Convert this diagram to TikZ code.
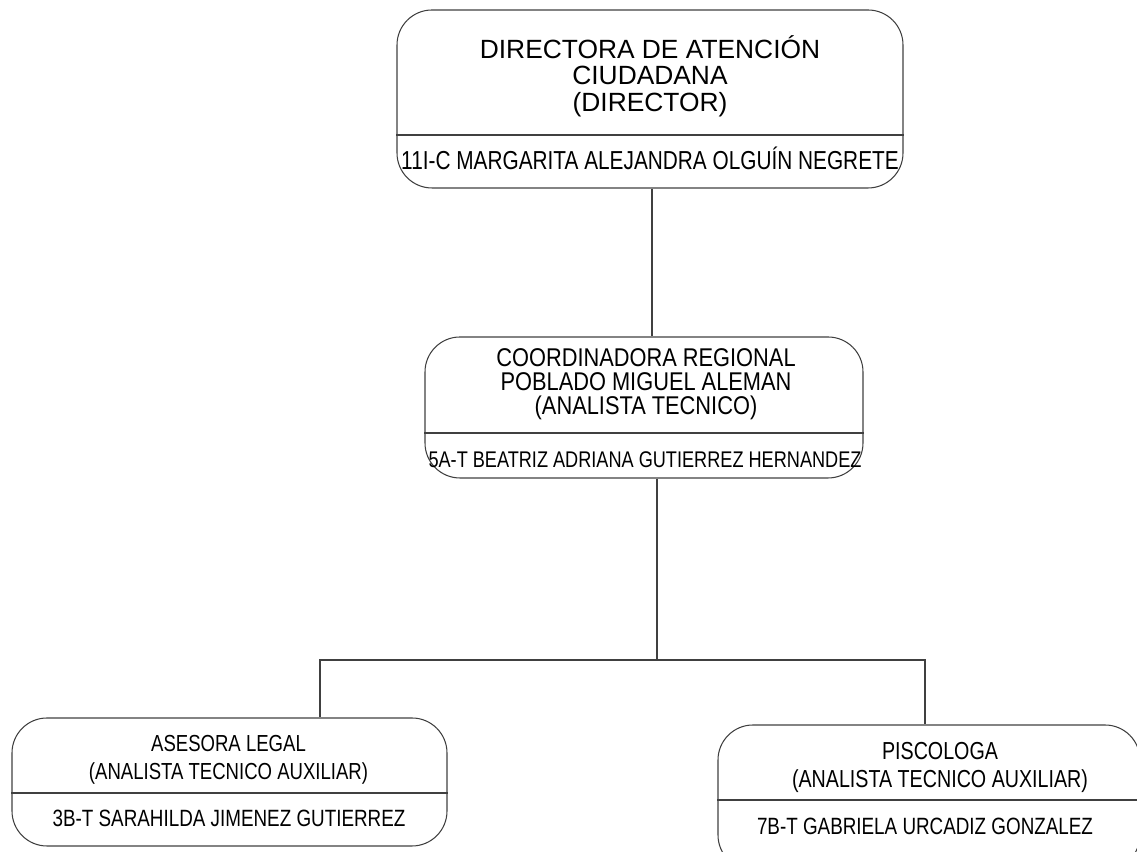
\documentclass[tikz,border=0pt]{standalone}
\usepackage{fontspec}
\setmainfont{Liberation Sans}
\newfontfamily\angosta[FakeStretch=0.8]{Liberation Sans}
\newfontfamily\angostaB[FakeStretch=0.85]{Liberation Sans}
\usetikzlibrary{calc}

\tikzset{
  linea/.style={draw=black!75, line width=0.6pt},
  caja/.style={linea, rounded corners=0.7cm, inner sep=0pt},
  cargo/.style={align=center, inner sep=0pt, font=\angosta\fontsize{14}{16}\selectfont},
  nombre/.style={inner sep=0pt, font=\angosta\fontsize{13.4}{16}\selectfont},
}

\begin{document}
\begin{tikzpicture}
\clip (0,0) rectangle (22.74,17.04);
\node[caja, minimum width=10.12cm, minimum height=3.56cm] (dir) at (13.0,15.06) {};
\node[caja, minimum width=8.76cm, minimum height=2.82cm] (coord) at (12.88,8.89) {};
\node[caja, minimum width=8.7cm, minimum height=2.56cm] (ase) at (4.59,1.40) {};
\node[caja, minimum width=8.44cm, minimum height=2.9cm] (psi) at (18.58,1.09) {};

\draw[linea] (dir.west |- 0,14.34) -- (dir.east |- 0,14.34);
\draw[linea] (coord.west |- 0,8.38) -- (coord.east |- 0,8.38);
\draw[linea] (ase.west |- 0,1.18) -- (ase.east |- 0,1.18);
\draw[linea] (psi.west |- 0,1.04) -- (psi.east |- 0,1.04);

\node[cargo, font=\fontsize{15}{15.1}\selectfont] (dirT) at (13.0,15.52) {DIRECTORA DE ATENCIÓN\\CIUDADANA\\(DIRECTOR)};
\node[nombre, font=\angosta\fontsize{14.8}{16}\selectfont] (dirN) at (13.0,13.88) {11I-C MARGARITA ALEJANDRA OLGUÍN NEGRETE};
\node[cargo, font=\angostaB\fontsize{14.6}{13.6}\selectfont] (coordT) at (12.92,9.36) {COORDINADORA REGIONAL\\POBLADO MIGUEL ALEMAN\\(ANALISTA TECNICO)};
\node[nombre, font=\angosta\fontsize{12.9}{16}\selectfont] (coordN) at (12.9,7.84) {5A-T BEATRIZ ADRIANA GUTIERREZ HERNANDEZ};
\node[cargo, font=\angosta\fontsize{13.2}{15.9}\selectfont] (aseT) at (4.57,1.84) {ASESORA LEGAL\\(ANALISTA TECNICO AUXILIAR)};
\node[nombre] (aseN) at (4.58,0.68) {3B-T SARAHILDA JIMENEZ GUTIERREZ};
\node[cargo, font=\angosta\fontsize{14}{15.9}\selectfont] (psiT) at (18.8,1.70) {PISCOLOGA\\(ANALISTA TECNICO AUXILIAR)};
\node[nombre] (psiN) at (18.5,0.52) {7B-T GABRIELA URCADIZ GONZALEZ};

\coordinate (bus) at (13.14,3.84);
\coordinate (busL) at (6.4,3.84);
\coordinate (busR) at (18.5,3.84);
\draw[linea] (dir.south) ++(0.04,0) -- ($(dir.south |- coord.north)+(0.04,0)$);
\draw[linea] (coord.south -| bus) -- (bus);
\draw[linea] (busL |- ase.north) -- (busL) -- (busR) -- (busR |- psi.north);
\end{tikzpicture}
\end{document}
